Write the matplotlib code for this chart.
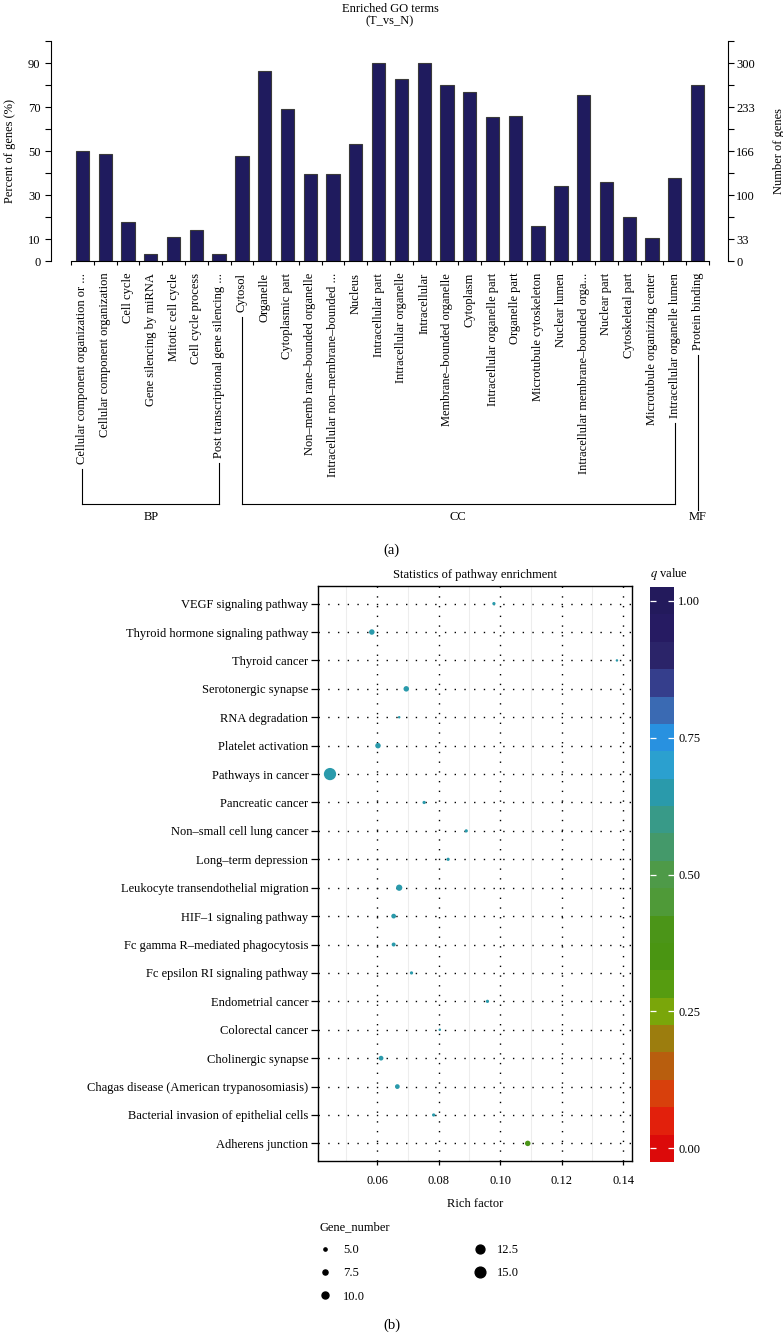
import matplotlib
matplotlib.use('Agg')
import matplotlib.pyplot as plt
import numpy as np
from matplotlib.colors import ListedColormap, BoundaryNorm
from matplotlib.lines import Line2D
from matplotlib.ticker import FormatStrFormatter
from matplotlib.transforms import blended_transform_factory

plt.rcParams['font.family'] = ['Liberation Serif', 'DejaVu Serif']
plt.rcParams['mathtext.fontset'] = 'stix'

# ---- panel (a): enriched GO terms ----
go_terms = [
    'Cellular component organization or ...',
    'Cellular component organization',
    'Cell cycle',
    'Gene silencing by miRNA',
    'Mitotic cell cycle',
    'Cell cycle process',
    'Post transcriptional gene silencing ...',
    'Cytosol',
    'Organelle',
    'Cytoplasmic part',
    'Non–memb rane–bounded organelle',
    'Intracellular non–membrane–bounded ...',
    'Nucleus',
    'Intracellular part',
    'Intracellular organelle',
    'Intracellular',
    'Membrane–bounded organelle',
    'Cytoplasm',
    'Intracellular organelle part',
    'Organelle part',
    'Microtubule cytoskeleton',
    'Nuclear lumen',
    'Intracellular membrane–bounded orga...',
    'Nuclear part',
    'Cytoskeletal part',
    'Microtubule organizing center',
    'Intracellular organelle lumen',
    'Protein binding',
]
go_percent = [50.0, 48.5, 17.6, 3.3, 11.1, 14.0, 3.3, 47.6, 86.5, 69.1,
              39.7, 39.7, 53.3, 90.2, 82.6, 90.2, 80.0, 76.8, 65.6, 65.9,
              15.8, 34.2, 75.3, 36.0, 20.0, 10.3, 37.6, 79.8]
go_groups = ['BP', 'CC', 'MF']
go_group_sizes = [7, 20, 1]
pct_ticks = [0, 10, 20, 30, 40, 50, 60, 70, 80, 90, 100]
pct_labels = ['0', '10', '', '30', '', '50', '', '70', '', '90', '']
gene_labels = ['0', '33', '', '100', '', '166', '', '233', '', '300', '']

# ---- panel (b): pathway enrichment ----
pathways = [
    'VEGF signaling pathway',
    'Thyroid hormone signaling pathway',
    'Thyroid cancer',
    'Serotonergic synapse',
    'RNA degradation',
    'Platelet activation',
    'Pathways in cancer',
    'Pancreatic cancer',
    'Non–small cell lung cancer',
    'Long–term depression',
    'Leukocyte transendothelial migration',
    'HIF–1 signaling pathway',
    'Fc gamma R–mediated phagocytosis',
    'Fc epsilon RI signaling pathway',
    'Endometrial cancer',
    'Colorectal cancer',
    'Cholinergic synapse',
    'Chagas disease (American trypanosomiasis)',
    'Bacterial invasion of epithelial cells',
    'Adherens junction',
]
rich_factor = [0.098, 0.0583, 0.138, 0.0695, 0.0672, 0.0603, 0.0447, 0.0753,
               0.089, 0.0831, 0.0672, 0.0654, 0.0654, 0.0712, 0.0959, 0.0804,
               0.0613, 0.0666, 0.0784, 0.109]
gene_number = [5, 8, 4, 8, 4, 8, 17, 5, 5, 5, 9, 7, 6, 5, 5, 4, 7, 7, 5, 8]
q_value = [0.67, 0.67, 0.67, 0.67, 0.67, 0.67, 0.67, 0.67, 0.67, 0.67,
           0.67, 0.67, 0.67, 0.67, 0.67, 0.67, 0.67, 0.67, 0.67, 0.42]
q_colors = ['#dc0a0a', '#e2200c', '#d8400c', '#b85e0e', '#9c7d0e', '#7aa60a',
            '#569c10', '#4a9512', '#4b9518', '#4f9a38', '#4e9a48', '#44996a',
            '#389a88', '#2a9aab', '#2ba0cf', '#2891e0', '#3a6ab3', '#353e8c',
            '#2b2469', '#261b62', '#231a5c']
legend_sizes = [5.0, 7.5, 10.0, 12.5, 15.0]

W, H = 783, 1333
FS = 9


def fy(py):
    return 1 - py / H


def dot_pt(g):
    return (0.75 * g - 0.5) * 0.72


fig = plt.figure(figsize=(W / 100, H / 100), dpi=100)

# bar chart
ax = fig.add_axes([71 / W, fy(261), 638 / W, 220 / H])
x = np.arange(len(go_terms))
ax.bar(x, go_percent, width=0.58, color='#1f1b5e', edgecolor='#3a3a3a', linewidth=0.8)
ax.set_xlim(-0.5, len(go_terms) - 0.5)
ax.set_ylim(0, 100)
ax.spines['top'].set_visible(False)
ax.spines['right'].set_visible(False)
ax.spines['left'].set_position(('outward', 14.4))
ax.set_yticks(pct_ticks)
ax.set_yticklabels(pct_labels)
ax.tick_params(axis='y', direction='out', length=4.5, width=0.8, labelsize=FS, pad=3)
ax.set_xticks(x)
ax.set_xticklabels(go_terms, rotation=90, fontsize=FS, va='top')
ax.tick_params(axis='x', which='major', length=0, pad=8.5)
ax.set_xticks(np.arange(-0.5, len(go_terms)), minor=True)
ax.tick_params(axis='x', which='minor', length=3, width=0.8, direction='out')
ax.set_ylabel('Percent of genes (%)', fontsize=FS)
ax.yaxis.set_label_coords(-0.086, 0.5)
ax.set_title('Enriched GO terms\n(T_vs_N)', fontsize=FS, pad=12, linespacing=1.0)

ax2 = ax.twinx()
ax2.set_ylim(0, 100)
for s in ['top', 'left', 'bottom']:
    ax2.spines[s].set_visible(False)
ax2.spines['right'].set_position(('outward', 13.7))
ax2.set_yticks(pct_ticks)
ax2.set_yticklabels(gene_labels)
ax2.tick_params(axis='y', direction='out', length=4, width=0.8, labelsize=FS, pad=2)
ax2.set_ylabel('Number of genes', fontsize=FS)
ax2.yaxis.set_label_coords(1.1, 0.5)

# scatter
sax = fig.add_axes([318 / W, fy(1161), 314 / W, 575 / H])
n = len(pathways)
ypos = n - 1 - np.arange(n)
cmap = ListedColormap(q_colors)
norm = BoundaryNorm(np.linspace(-0.025, 1.025, 22), cmap.N)
sc = sax.scatter(rich_factor, ypos, s=[dot_pt(g) ** 2 for g in gene_number],
                 c=q_value, cmap=cmap, norm=norm, zorder=3, linewidths=0)
sax.set_yticks(ypos)
sax.set_yticklabels(pathways, fontsize=FS)
sax.set_ylim(-0.62, n - 1 + 0.62)
sax.set_xlim(0.0408, 0.1429)
sax.set_xticks([0.06, 0.08, 0.10, 0.12, 0.14])
sax.xaxis.set_major_formatter(FormatStrFormatter('%.2f'))
sax.set_xticks(np.arange(0.05, 0.14, 0.02), minor=True)
sax.grid(which='major', color='black', linestyle=(0, (1, 6)), linewidth=1.0)
sax.grid(which='minor', axis='x', color='#ededed', linewidth=0.8)
sax.set_axisbelow(True)
sax.tick_params(which='minor', length=0)
sax.tick_params(axis='y', length=5, width=0.9, pad=2)
sax.tick_params(axis='x', length=3, width=0.9, pad=7, labelsize=FS)
for s in sax.spines.values():
    s.set_linewidth(1.0)
sax.set_xlabel('Rich factor', fontsize=FS, labelpad=8)
sax.set_title('Statistics of pathway enrichment', fontsize=FS, pad=6)

cax = fig.add_axes([650 / W, fy(1162), 24 / W, 575 / H])
cb = fig.colorbar(sc, cax=cax, ticks=[0, 0.25, 0.5, 0.75, 1.0], format='%.2f')
cb.minorticks_off()
cb.outline.set_visible(False)
cax.tick_params(which='major', direction='in', length=4, width=0.9, color='white',
                left=True, right=True, labelsize=FS, pad=3)
cax.set_title(r'$q$ value', loc='left', fontsize=FS, pad=7)

handles = [Line2D([], [], marker='o', linestyle='', color='black', markersize=dot_pt(g))
           for g in legend_sizes]
fig.legend(handles, ['%.1f' % g for g in legend_sizes], title='Gene_number',
           loc='upper left', bbox_to_anchor=(319 / W, fy(1221)), ncol=2, frameon=False,
           fontsize=FS, title_fontsize=FS, alignment='left', handlelength=1.0,
           handletextpad=0.9, labelspacing=0.9, columnspacing=8.7, borderpad=0,
           borderaxespad=0)

fig.text(0.5, fy(550), '(a)', ha='center', va='center', fontsize=10.5)
fig.text(0.5, fy(1325), '(b)', ha='center', va='center', fontsize=10.5)

# group brackets under the GO term labels
fig.canvas.draw()
renderer = fig.canvas.get_renderer()
labels = ax.get_xticklabels()
blend = blended_transform_factory(ax.transData, fig.transFigure)
bracket_y = fy(504)
start = 0
for name, size in zip(go_groups, go_group_sizes):
    first, last = start, start + size - 1
    for i in sorted({first, last}):
        y0 = (labels[i].get_window_extent(renderer).y0 - 5) / H
        y1 = bracket_y if size > 1 else fy(510)
        fig.add_artist(Line2D([i, i], [y0, y1], transform=blend, color='black', lw=0.8))
    if size > 1:
        fig.add_artist(Line2D([first, last], [bracket_y, bracket_y], transform=blend,
                              color='black', lw=0.8))
    fig.text((first + last) / 2, fy(517), name, transform=blend, ha='center',
             va='center', fontsize=FS)
    start += size

fig.savefig('out.png', dpi=100)
